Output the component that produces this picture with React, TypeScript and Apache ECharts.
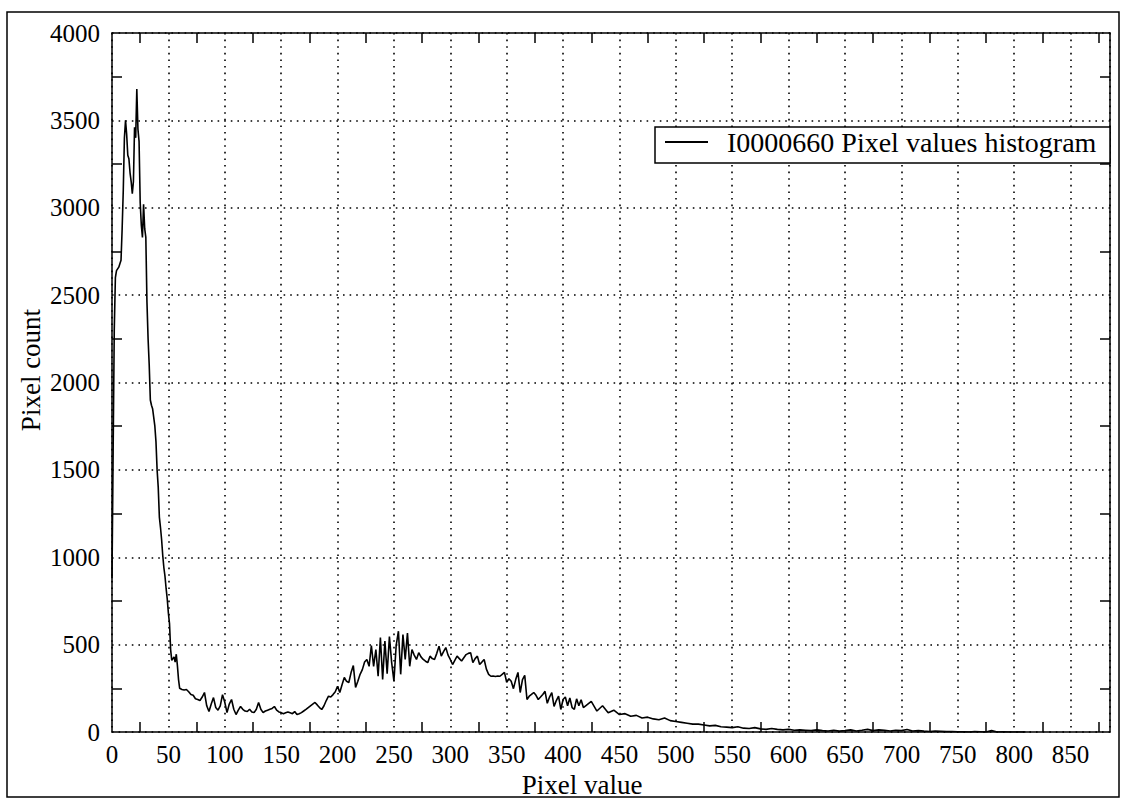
import React, { useEffect, useRef } from "react";
import * as echarts from "echarts";

// Histogram bins, pixel values 0..60 (one per value)
const peakStart = 0;
const peakStep = 1;
const peakCounts = [
  880, 1600, 2300, 2600, 2640, 2650, 2660, 2680, 2700, 2880,
  3100, 3400, 3500, 3420, 3300, 3280, 3200, 3150, 3080, 3150,
  3460, 3400, 3680, 3450, 3380, 3030, 2900, 2830, 3020, 2880,
  2830, 2460, 2250, 2100, 1900, 1870, 1850, 1800, 1750, 1660,
  1500, 1400, 1230, 1170, 1100, 1010, 940, 890, 820, 760,
  680, 620, 470, 410, 420, 430, 400, 445, 380, 300,
  250,
];

// Pixel values 62..418, every second value
const midStart = 62;
const midStep = 2;
const midCounts = [
  243, 240, 243, 230, 214, 210, 190, 186, 180, 200,
  226, 150, 117, 160, 197, 140, 125, 150, 214, 170,
  111, 160, 186, 130, 100, 125, 146, 130, 120, 117,
  130, 115, 111, 130, 169, 130, 111, 120, 125, 130,
  135, 146, 125, 115, 111, 105, 110, 115, 110, 105,
  117, 100, 105, 111, 120, 129, 140, 150, 160, 169,
  155, 140, 129, 150, 180, 205, 200, 214, 230, 262,
  226, 270, 312, 290, 283, 340, 380, 255, 290, 330,
  357, 400, 415, 376, 495, 376, 472, 319, 541, 300,
  520, 334, 546, 397, 291, 495, 577, 330, 557, 415,
  566, 376, 472, 440, 415, 454, 430, 415, 405, 397,
  434, 420, 415, 450, 491, 434, 460, 483, 440, 415,
  386, 410, 434, 420, 406, 425, 443, 450, 454, 397,
  420, 434, 386, 400, 415, 360, 330, 319, 320, 318,
  320, 319, 330, 341, 285, 305, 290, 248, 300, 341,
  226, 300, 324, 186, 205, 215, 226, 210, 186, 200,
  215, 233, 164, 200, 226, 146, 180, 205, 129, 186,
  200, 150, 195, 140, 130, 190, 150, 185, 140,
];

// Pixel values 420..810, every fifth value
const tailStart = 420;
const tailStep = 5;
const tailCounts = [
  150, 175, 120, 150, 110, 125, 100, 105, 90, 95,
  80, 85, 75, 70, 80, 65, 60, 55, 50, 45,
  45, 40, 35, 38, 30, 28, 25, 30, 22, 20,
  25, 18, 15, 20, 15, 12, 15, 10, 12, 10,
  8, 12, 8, 6, 10, 5, 8, 12, 6, 10,
  15, 8, 12, 10, 6, 10, 8, 14, 6, 8,
  5, 3, 5, 4, 2, 3, 1, 1, 0, 2,
  1, 0, 8, 0, 1, 0, 0, 0, 0,
];

const xMin = 0;
const xMax = 885;
const xInterval = 50;
const yMin = 0;
const yMax = 4000;
const yInterval = 500;

const seriesName = "I0000660 Pixel values histogram";
const xTitle = "Pixel value";
const yTitle = "Pixel count";

const FONT = "'Liberation Serif', 'Times New Roman', serif";

function buildPoints(): [number, number][] {
  const pts: [number, number][] = [];
  peakCounts.forEach((c, i) => pts.push([peakStart + i * peakStep, c]));
  midCounts.forEach((c, i) => pts.push([midStart + i * midStep, c]));
  tailCounts.forEach((c, i) => pts.push([tailStart + i * tailStep, c]));
  return pts;
}

export default function App() {
  const ref = useRef<HTMLDivElement>(null);

  useEffect(() => {
    if (!ref.current) return;
    const chart = echarts.init(ref.current, null, { renderer: "svg" });

    const axisLine = { show: true, onZero: false, lineStyle: { color: "#000", width: 1.5 } };
    const dotted = { show: true, lineStyle: { color: "#000", width: 1.6, type: [1.6, 5] as any } };
    const labelStyle = { color: "#000", fontFamily: FONT, fontSize: 25 };
    // only the half-step marks are solid; the labelled steps show the dotted grid
    const ticks = {
      axisLine,
      axisTick: { show: false, inside: true },
      minorTick: { show: true, splitNumber: 2, length: 10, lineStyle: { color: "#000", width: 1.5 } },
    };

    const xScale = { type: "value", min: xMin, max: xMax, interval: xInterval, ...ticks };
    const yScale = { type: "value", min: yMin, max: yMax, interval: yInterval, ...ticks };

    chart.setOption({
      animation: false,
      backgroundColor: "#fff",
      grid: {
        left: 112,
        right: 12,
        top: 33,
        bottom: 69,
        containLabel: false,
        outerBoundsMode: "none",
      },
      xAxis: [
        {
          ...xScale,
          position: "bottom",
          axisLabel: {
            ...labelStyle,
            margin: 10,
            showMaxLabel: false,
            formatter: (v: number) => (v % xInterval === 0 ? String(v) : ""),
          },
          splitLine: dotted,
        },
        {
          ...xScale,
          position: "top",
          axisLabel: { show: false },
          splitLine: { show: false },
        },
      ],
      yAxis: [
        {
          ...yScale,
          position: "left",
          axisLabel: { ...labelStyle, margin: 12, formatter: (v: number) => String(v) },
          splitLine: dotted,
        },
        {
          ...yScale,
          position: "right",
          axisLabel: { show: false },
          splitLine: { show: false },
        },
      ],
      legend: {
        show: true,
        left: 665,
        top: 128,
        padding: 0,
        itemWidth: 43,
        itemHeight: 2,
        z: 10,
        selectedMode: false,
        icon: "rect",
        itemStyle: { color: "#000" },
        textStyle: {
          color: "#000",
          fontFamily: FONT,
          fontSize: 28,
          padding: [0, 0, 0, 14],
        },
        data: [seriesName],
      },
      graphic: [
        {
          type: "rect",
          z: 5,
          shape: { x: 655, y: 127, width: 455, height: 36 },
          style: { fill: "#fff", stroke: "#000", lineWidth: 1.5 },
        },
        {
          type: "rect",
          z: 1,
          silent: true,
          shape: { x: 7, y: 12, width: 1112, height: 785 },
          style: { fill: "none", stroke: "#000", lineWidth: 1.5 },
        },
        {
          type: "text",
          x: 582,
          y: 785,
          style: {
            text: xTitle,
            font: `27px ${FONT}`,
            fill: "#000",
            textAlign: "center",
            textVerticalAlign: "middle",
          },
        },
        {
          type: "text",
          x: 31,
          y: 370,
          rotation: Math.PI / 2,
          style: {
            text: yTitle,
            font: `27px ${FONT}`,
            fill: "#000",
            textAlign: "center",
            textVerticalAlign: "middle",
          },
        },
      ],
      series: [
        {
          name: seriesName,
          type: "line",
          xAxisIndex: 0,
          yAxisIndex: 0,
          data: buildPoints(),
          symbol: "none",
          showSymbol: false,
          lineStyle: { color: "#000", width: 1.6 },
          itemStyle: { color: "#000" },
          z: 3,
        },
      ],
    });

    return () => chart.dispose();
  }, []);

  return (
    <div
      ref={ref}
      style={{ position: "fixed", left: 0, top: 0, width: 1122, height: 801, background: "#fff" }}
    />
  );
}
